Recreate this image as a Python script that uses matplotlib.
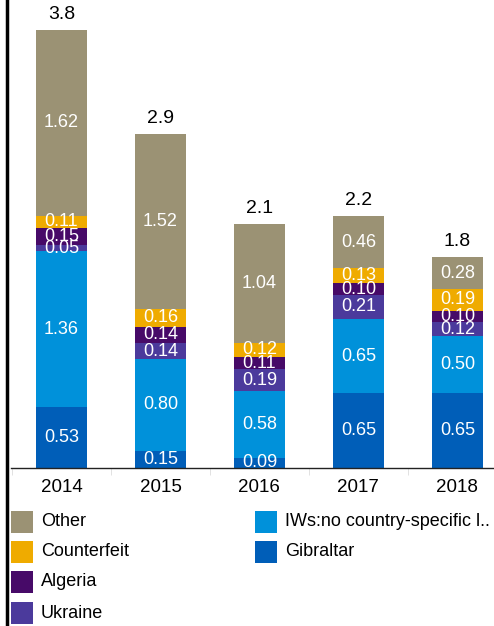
import numpy as np
import matplotlib
matplotlib.use('Agg')
import matplotlib.pyplot as plt
from matplotlib.patches import Rectangle
from matplotlib.lines import Line2D

years = ['2014', '2015', '2016', '2017', '2018']
series = ['Gibraltar', 'IWs:no country-specific l..', 'Ukraine', 'Algeria', 'Counterfeit', 'Other']
gibraltar = [0.53, 0.15, 0.09, 0.65, 0.65]
iws = [1.36, 0.80, 0.58, 0.65, 0.50]
ukraine = [0.05, 0.14, 0.19, 0.21, 0.12]
algeria = [0.15, 0.14, 0.11, 0.10, 0.10]
counterfeit = [0.11, 0.16, 0.12, 0.13, 0.19]
other = [1.62, 1.52, 1.04, 0.46, 0.28]
totals = ['3.8', '2.9', '2.1', '2.2', '1.8']

colors = ['#005eb8', '#0091da', '#4b3a9c', '#470a68', '#efab00', '#9b9274']
values = [gibraltar, iws, ukraine, algeria, counterfeit, other]

plt.rcParams['font.family'] = ['Liberation Sans', 'DejaVu Sans']

fig = plt.figure(figsize=(4.94, 6.26), dpi=100)
ax = fig.add_axes([11/494, 1 - 468/626, 1 - 11/494, 468/626])

x = np.arange(len(years))
bottom = np.zeros(len(years))
for vals, col in zip(values, colors):
    vals = np.array(vals)
    ax.bar(x, vals, width=0.515, bottom=bottom, color=col, linewidth=0)
    for xi, b, v in zip(x, bottom, vals):
        ax.text(xi, b + v / 2, '{:.2f}'.format(v), ha='center', va='center',
                color='white', fontsize=13)
    bottom += vals

for xi, b, t in zip(x, bottom, totals):
    ax.text(xi, b + 0.06, t, ha='center', va='bottom', color='black', fontsize=14)

ax.set_xticks(x)
ax.set_xticklabels(years, fontsize=13.5)
ax.set_xticks(np.arange(-0.5, 4.0, 1), minor=True)
ax.tick_params(axis='x', which='major', length=0, pad=8)
ax.tick_params(axis='x', which='minor', length=5, color='#dddddd')
ax.set_yticks([])
ax.set_xlim(-0.51, 4.37)
ax.set_ylim(0, 468/114.7)
for s in ['top', 'right', 'left']:
    ax.spines[s].set_visible(False)
ax.spines['bottom'].set_color('#222222')
ax.spines['bottom'].set_linewidth(1)

# left border line
fig.add_artist(Line2D([6.5/494, 6.5/494], [0, 1], color='black', linewidth=2.5))

# legend
W, H = 494.0, 626.0
leg = [('Other', '#9b9274', 11, 522), ('Counterfeit', '#efab00', 11, 552),
       ('Algeria', '#470a68', 11, 582), ('Ukraine', '#4b3a9c', 11, 613),
       ('IWs:no country-specific l..', '#0091da', 255, 522),
       ('Gibraltar', '#005eb8', 255, 552)]
for name, col, lx, ly in leg:
    fig.add_artist(Rectangle((lx/W, 1 - (ly + 11)/H), 22/W, 22/H,
                             transform=fig.transFigure, color=col, linewidth=0))
    fig.text((lx + 30)/W, 1 - ly/H, name, ha='left', va='center', fontsize=13)

fig.savefig('out.png', dpi=100)
